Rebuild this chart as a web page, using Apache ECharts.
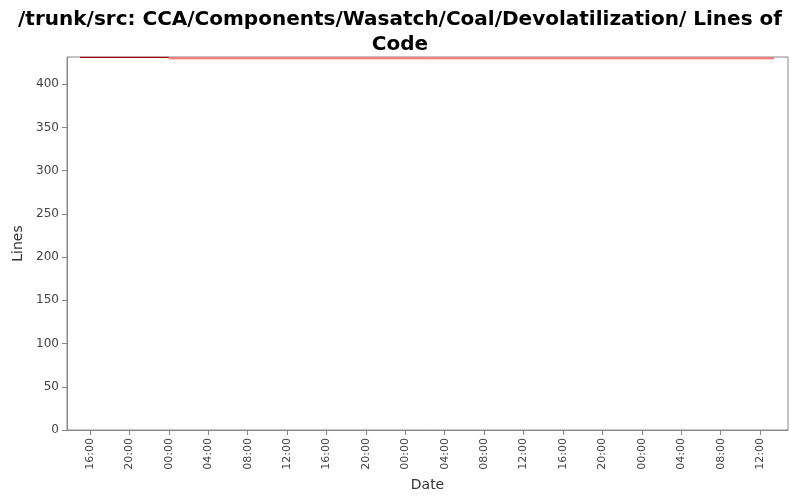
<!DOCTYPE html>
<html><head><meta charset="utf-8">
<script src="https://cdn.jsdelivr.net/npm/echarts@6/dist/echarts.min.js"></script>
<style>html,body{margin:0;padding:0;background:#fff}#c{width:800px;height:500px}</style>
</head><body><div id="c"></div>
<script>
const seg1Times = [[2010,0,1,14,59],[2010,0,2,0,0]];
const seg1Values = [431, 431];
const seg2Times = [[2010,0,2,0,0],[2010,0,4,13,25]];
const seg2Values = [430, 430];
const yTicks = [0,50,100,150,200,250,300,350,400];
const t = a => new Date(a[0],a[1],a[2],a[3],a[4]).getTime();
const s1 = seg1Times.map((a,i)=>[t(a),seg1Values[i]]);
const s2 = seg2Times.map((a,i)=>[t(a),seg2Values[i]]);
const H = 3600*1000;
const chart = echarts.init(document.getElementById('c'));
chart.setOption({
  animation:false,
  title:{text:'/trunk/src: CCA/Components/Wasatch/Coal/Devolatilization/ Lines of\nCode',left:'center',top:2,
    textStyle:{fontFamily:'DejaVu Sans',fontSize:20,fontWeight:'bold',color:'#000',lineHeight:25}},
  grid:{left:67,right:12,top:57,bottom:70,show:true,borderColor:'#888',borderWidth:1},
  xAxis:{type:'time',min:t([2010,0,1,13,40]),max:t([2010,0,4,14,50]),interval:4*H,minInterval:4*H,maxInterval:4*H,
    name:'Date',nameLocation:'middle',nameGap:48,nameTextStyle:{fontFamily:'DejaVu Sans',fontSize:14,color:'#333'},
    axisLine:{lineStyle:{color:'#888'}},axisTick:{show:true,lineStyle:{color:'#888'}},splitLine:{show:false},
    axisLabel:{rotate:90,fontFamily:'DejaVu Sans',fontSize:11,color:'#444',showMinLabel:false,showMaxLabel:false,hideOverlap:false,
      formatter:v=>{const d=new Date(v);return String(d.getHours()).padStart(2,'0')+':'+String(d.getMinutes()).padStart(2,'0');}}},
  yAxis:{type:'value',min:0,max:431.5,interval:50,
    name:'Lines',nameLocation:'middle',nameGap:40,nameTextStyle:{fontFamily:'DejaVu Sans',fontSize:14,color:'#333'},
    axisLine:{show:true,lineStyle:{color:'#888'}},axisTick:{show:true,lineStyle:{color:'#888'}},splitLine:{show:false},
    axisLabel:{fontFamily:'DejaVu Sans',fontSize:12,color:'#444',showMaxLabel:false,formatter:v=>yTicks.includes(v)?String(v):''}},
  series:[
    {type:'line',data:s1,showSymbol:false,lineStyle:{color:'#a00000',width:1.2}},
    {type:'line',data:s2,showSymbol:false,lineStyle:{color:'#ff7070',width:2}}
  ]
});
</script></body></html>
